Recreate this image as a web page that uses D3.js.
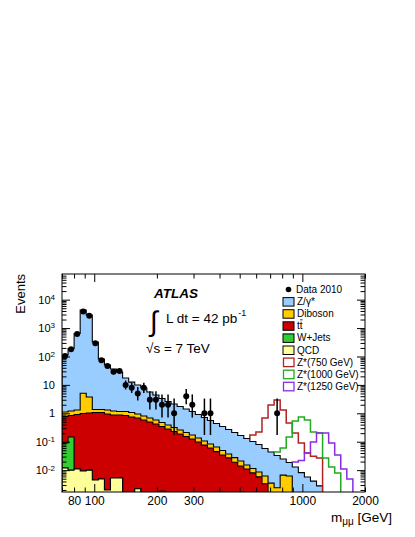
<!DOCTYPE html>
<html>
<head>
<meta charset="utf-8">
<script src="https://cdn.jsdelivr.net/npm/d3@7"></script>
<style>
  body { margin: 0; background: #fff; }
  svg { display: block; font-family: "Liberation Sans", Arial, Helvetica, sans-serif; }
</style>
</head>
<body>
<div id="chart"></div>
<script>
// binning : 50 bins logarithmiques entre 70 et 2000 GeV
const massMin = 70, massMax = 2000, nBins = 50;

// donnees (evenements par bin)
const dataCounts = [105, 180, 620, 3800, 2700, 290, 74, 46, 29, 31,
                    10, 8, 5, 8, 3, 3, 2, 2, 1, 0,
                    4, 2, 0, 1, 1, 0, 0, 0, 0, 0,
                    0, 0, 0, 0, 0, 1, 0, 0, 0, 0,
                    0, 0, 0, 0, 0, 0, 0, 0, 0, 0];

// bruits de fond
const zgamma = [111.6, 189.8, 642.7, 4320, 2880, 321.6, 80.1, 48.8, 35.1, 27.2,
                16.3, 11.5, 8.95, 6.97, 4.94, 3.83, 2.85, 2.21, 1.81, 1.48,
                1.21, 0.985, 0.772, 0.605, 0.475, 0.373, 0.294, 0.232, 0.183, 0.1445,
                0.1145, 0.0903, 0.0711, 0.0515, 0.0399, 0.0303, 0.0179, 0.0123, 0.0129, 0.0082,
                0.0057, 0.0041, 0.0028, 0, 0, 0, 0, 0, 0, 0];
const diboson = [0.339, 0.368, 0.40, 4.08, 2.73, 0.294, 0.294, 0.362, 0.334, 0.286,
                 0.32, 0.326, 0.262, 0.221, 0.189, 0.162, 0.131, 0.107, 0.087, 0.072,
                 0.058, 0.047, 0.037, 0.030, 0.023, 0.020, 0.015, 0.010, 0.0085, 0.007,
                 0.0042, 0.0034, 0.0028, 0.0029, 0.0035, 0.0024, 0.0067, 0.0062, 0, 0,
                 0, 0, 0, 0, 0, 0, 0, 0, 0, 0];
const ttbar = [0.682, 0.690, 0.896, 0.975, 1.015, 1.062, 1.062, 0.943, 0.866, 0.866,
               0.837, 0.741, 0.681, 0.582, 0.494, 0.420, 0.341, 0.280, 0.229, 0.187,
               0.153, 0.125, 0.098, 0.076, 0.060, 0.045, 0.034, 0.027, 0.019, 0.014,
               0.011, 0.008, 0.0058, 0.0033, 0, 0, 0, 0, 0, 0,
               0, 0, 0, 0, 0, 0, 0, 0, 0, 0];
const wjets = [0.078, 0.137, 0, 0, 0, 0, 0, 0, 0, 0,
               0, 0, 0, 0, 0, 0, 0, 0, 0, 0,
               0, 0, 0, 0, 0, 0, 0, 0, 0, 0,
               0, 0, 0, 0, 0, 0, 0, 0, 0, 0,
               0, 0, 0, 0, 0, 0, 0, 0, 0, 0];
const qcd = [0.012, 0.010, 0.011, 0.0093, 0.010, 0.0045, 0.0049, 0.0020, 0.0053, 0.0053,
             0, 0, 0.0022, 0, 0, 0, 0.0018, 0, 0, 0,
             0, 0, 0, 0, 0, 0, 0, 0, 0, 0,
             0, 0, 0, 0, 0, 0, 0, 0, 0, 0,
             0, 0, 0, 0, 0, 0, 0, 0, 0, 0];

// signaux Z* (au-dessus du bruit de fond)
const zp750 = [0, 0, 0, 0, 0, 0, 0, 0, 0, 0,
               0, 0, 0, 0, 0, 0, 0, 0, 0, 0,
               0, 0, 0, 0, 0, 0, 0, 0, 0, 0,
               0, 0.07, 0.14, 0.625, 1.92, 2.91, 1.28, 0.437, 0.19, 0.082,
               0.034, 0.027, 0.024, 0, 0, 0, 0, 0, 0, 0];
const zp1000 = [0, 0, 0, 0, 0, 0, 0, 0, 0, 0,
                0, 0, 0, 0, 0, 0, 0, 0, 0, 0,
                0, 0, 0, 0, 0, 0, 0, 0, 0, 0,
                0, 0, 0, 0, 0, 0.011, 0.035, 0.128, 0.527, 0.733,
                0.575, 0.216, 0.200, 0.0267, 0.013, 0.0079, 0, 0, 0, 0];
const zp1250 = [0, 0, 0, 0, 0, 0, 0, 0, 0, 0,
                0, 0, 0, 0, 0, 0, 0, 0, 0, 0,
                0, 0, 0, 0, 0, 0, 0, 0, 0, 0,
                0, 0, 0, 0, 0, 0, 0, 0, 0.0064, 0.0135,
                0.034, 0.094, 0.200, 0.203, 0.090, 0.034, 0.011, 0.0049, 0, 0];

// intervalles de Poisson (68%) pour les petits nombres
const poissonLo = [0, 0.173, 0.708, 1.367, 2.086, 2.840, 3.620, 4.419, 5.232, 6.057, 6.891];
const poissonHi = [0, 3.300, 4.638, 5.918, 7.163, 8.382, 9.584, 10.77, 11.95, 13.11, 14.27];

const xTickLabels = [80, 100, 200, 300, 1000, 2000];
const yMajors = [1e-2, 1e-1, 1, 10, 1e2, 1e3, 1e4];
const legendLabels = ["Data 2010", "Z/γ*", "Diboson", "tt", "W+Jets", "QCD",
                      "Z*(750 GeV)", "Z*(1000 GeV)", "Z*(1250 GeV)"];

const bkgColors = { zgamma: "#99ccff", diboson: "#ffcc00", ttbar: "#cc0000", wjets: "#33cc33", qcd: "#ffff99" };
const sigColors = ["#b22222", "#22aa22", "#8a2be2"];

const W = 415, H = 537;
const frame = { left: 62, right: 365, top: 274, bottom: 492 };

const svg = d3.select("#chart").append("svg")
              .attr("width", W)
              .attr("height", H);

const edges = d3.range(nBins + 1).map(i => massMin * Math.pow(massMax / massMin, i / nBins));

const x = d3.scaleLog().domain([massMin, massMax]).range([frame.left, frame.right]);
const y = d3.scaleLog().domain([0.0017, 8e4]).range([frame.bottom, frame.top]);
const yv = v => v > 0 ? Math.min(y(v), frame.bottom + 2) : frame.bottom + 2;

svg.append("clipPath").attr("id", "clip")
   .append("rect")
   .attr("x", frame.left).attr("y", frame.top)
   .attr("width", frame.right - frame.left).attr("height", frame.bottom - frame.top);

const plot = svg.append("g").attr("clip-path", "url(#clip)");

// empilement
const bins = d3.range(nBins).map(i => ({
    qcd: qcd[i], wjets: wjets[i], ttbar: ttbar[i], diboson: diboson[i], zgamma: zgamma[i]
}));
const keys = ["qcd", "wjets", "ttbar", "diboson", "zgamma"];
const stacked = d3.stack().keys(keys)(bins);

function histPath(vals) {
    let p = `M${x(edges[0])},${yv(0)}`;
    vals.forEach((v, i) => {
        p += `L${x(edges[i])},${yv(v)}L${x(edges[i + 1])},${yv(v)}`;
    });
    return p + `L${x(edges[nBins])},${yv(0)}Z`;
}

stacked.slice().reverse().forEach(layer => {
    plot.append("path")
        .attr("d", histPath(layer.map(d => d[1])))
        .attr("fill", bkgColors[layer.key])
        .attr("stroke", "#000")
        .attr("stroke-width", 1.1);
});

const bkgTotal = stacked[stacked.length - 1].map(d => d[1]);

// signaux
[zp750, zp1000, zp1250].forEach((sig, k) => {
    const nz = d3.range(nBins).filter(i => sig[i] > 0);
    const i0 = nz[0], i1 = nz[nz.length - 1];
    let p = `M${x(edges[i0])},${yv(bkgTotal[i0 - 1])}`;
    for (let i = i0; i <= i1; i++) {
        const v = bkgTotal[i] + sig[i];
        p += `L${x(edges[i])},${yv(v)}L${x(edges[i + 1])},${yv(v)}`;
    }
    p += `L${x(edges[i1 + 1])},${yv(bkgTotal[i1 + 1] || 0)}`;
    plot.append("path")
        .attr("d", p)
        .attr("fill", "none")
        .attr("stroke", sigColors[k])
        .attr("stroke-width", 1.5);
});

// donnees
const pts = d3.range(nBins).filter(i => dataCounts[i] > 0).map(i => {
    const n = dataCounts[i];
    return {
        m: Math.sqrt(edges[i] * edges[i + 1]),
        n: n,
        lo: n <= 10 ? poissonLo[n] : n - Math.sqrt(n),
        hi: n <= 10 ? poissonHi[n] : n + Math.sqrt(n)
    };
});

plot.selectAll(".err").data(pts).enter().append("line")
    .attr("x1", d => x(d.m)).attr("x2", d => x(d.m))
    .attr("y1", d => yv(d.lo)).attr("y2", d => yv(d.hi))
    .attr("stroke", "#000").attr("stroke-width", 1.5);

plot.selectAll(".pt").data(pts).enter().append("circle")
    .attr("cx", d => x(d.m)).attr("cy", d => y(d.n))
    .attr("r", 3).attr("fill", "#000");

// cadre et graduations
svg.append("rect")
   .attr("x", frame.left).attr("y", frame.top)
   .attr("width", frame.right - frame.left).attr("height", frame.bottom - frame.top)
   .attr("fill", "none").attr("stroke", "#000").attr("stroke-width", 1);

const yMinors = [];
for (let e = -3; e <= 4; e++) for (let k = 2; k <= 9; k++) {
    const v = k * Math.pow(10, e);
    if (v > 0.0017 && v < 8e4) yMinors.push(v);
}
const xMajors = [100, 1000];
const xMinors = [70, 80, 90, 200, 300, 400, 500, 600, 700, 800, 900, 2000];

function ticks(axis, vals, size, tx, ty) {
    const g = svg.append("g")
                 .attr("transform", `translate(${tx},${ty})`)
                 .call(axis.tickValues(vals).tickSize(size).tickFormat(""));
    g.select(".domain").remove();
    g.selectAll("line").attr("stroke", "#000");
}
ticks(d3.axisLeft(y), yMajors, -8, frame.left, 0);
ticks(d3.axisLeft(y), yMinors, -4.5, frame.left, 0);
ticks(d3.axisRight(y), yMajors, -8, frame.right, 0);
ticks(d3.axisRight(y), yMinors, -4.5, frame.right, 0);
ticks(d3.axisBottom(x), xMajors, -8, 0, frame.bottom);
ticks(d3.axisBottom(x), xMinors, -4.5, 0, frame.bottom);
ticks(d3.axisTop(x), xMajors, -8, 0, frame.top);
ticks(d3.axisTop(x), xMinors, -4.5, 0, frame.top);

// etiquettes
const yLab = svg.append("g")
                .attr("transform", `translate(${frame.left},0)`)
                .call(d3.axisLeft(y).tickValues(yMajors).tickSize(0).tickPadding(7));
yLab.select(".domain").remove();
yLab.attr("font-family", null).attr("font-size", 11);
yLab.selectAll("text").each(function(v) {
    const t = d3.select(this).text("");
    const e = Math.round(Math.log10(v));
    if (e === 0) { t.text("1"); return; }
    if (e === 1) { t.text("10"); return; }
    t.append("tspan").text("10");
    t.append("tspan").attr("dy", "-0.45em").attr("font-size", 8).text(e);
});

const xLab = svg.append("g")
                .attr("transform", `translate(0,${frame.bottom})`)
                .call(d3.axisBottom(x).tickValues(xTickLabels).tickSize(0).tickPadding(4.5).tickFormat(d3.format("d")));
xLab.select(".domain").remove();
xLab.attr("font-family", null).attr("font-size", 12);

svg.append("text")
   .attr("transform", "translate(25,274) rotate(-90)")
   .attr("text-anchor", "end")
   .attr("font-size", 13)
   .text("Events");

const xt = svg.append("text")
              .attr("x", 392).attr("y", 522)
              .attr("text-anchor", "end")
              .attr("font-size", 13.5);
xt.append("tspan").text("m");
xt.append("tspan").attr("dy", 3).attr("font-size", 10).text("μμ");
xt.append("tspan").attr("dy", -3).text(" [GeV]");

// ATLAS
svg.append("text")
   .attr("x", 154).attr("y", 298)
   .attr("font-size", 13.5).attr("font-weight", "bold").attr("font-style", "italic")
   .text("ATLAS");
svg.append("text")
   .attr("x", 150).attr("y", 331)
   .attr("font-size", 28)
   .text("∫");
const lumi = svg.append("text")
                .attr("x", 166).attr("y", 323)
                .attr("font-size", 13.5);
lumi.append("tspan").text("L dt = 42 pb");
lumi.append("tspan").attr("dy", -7).attr("dx", 1).attr("font-size", 9).text("-1");
svg.append("text")
   .attr("x", 146).attr("y", 353)
   .attr("font-size", 13.5)
   .text("√s = 7 TeV");

// legende
const legend = svg.append("g").attr("font-size", 10);
const fills = [null, bkgColors.zgamma, bkgColors.diboson, bkgColors.ttbar, bkgColors.wjets, bkgColors.qcd];
legendLabels.forEach((lab, i) => {
    const cy = 289.5 + i * 12.1;
    if (i === 0) {
        legend.append("circle").attr("cx", 288.5).attr("cy", cy).attr("r", 2.8).attr("fill", "#000");
    } else if (i < 6) {
        legend.append("rect").attr("x", 283).attr("y", cy - 4).attr("width", 11).attr("height", 8.5)
              .attr("fill", fills[i]).attr("stroke", "#000").attr("stroke-width", 1);
    } else {
        legend.append("rect").attr("x", 283.5).attr("y", cy - 4).attr("width", 10.5).attr("height", 8.5)
              .attr("fill", "none").attr("stroke", sigColors[i - 6]).attr("stroke-width", 1.3);
    }
    const t = legend.append("text")
                    .attr("x", i === 0 ? 296 : 297).attr("y", cy).attr("dy", "0.35em")
                    .text(lab);
    if (lab === "tt") {
        const w1 = t.node().getSubStringLength(0, 1), w2 = t.node().getSubStringLength(1, 1);
        legend.append("line")
              .attr("x1", 297 + w1 + 0.3).attr("x2", 297 + w1 + w2)
              .attr("y1", cy - 6).attr("y2", cy - 6)
              .attr("stroke", "#000").attr("stroke-width", 0.8);
    }
});
</script>
</body>
</html>
